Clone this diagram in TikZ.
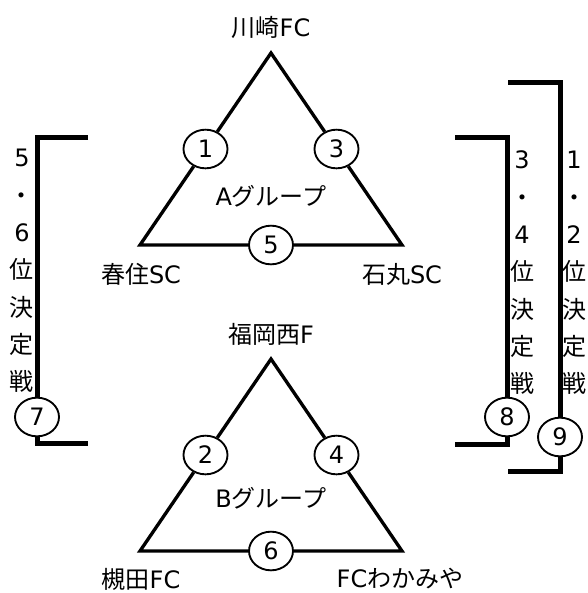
\documentclass[tikz,border=0pt]{standalone}
\usepackage{fontspec}
\setmainfont{DejaVu Sans}
\newfontfamily\jp{Noto Sans CJK JP}
\usetikzlibrary{shapes.geometric,calc}

\tikzset{
  edge/.style={line width=2.5pt},
  bracket/.style={line width=3.75pt},
  match/.style={ellipse, draw, line width=1.4pt, minimum width=33pt, minimum height=29pt, inner sep=0pt, font=\fontsize{18}{20}\selectfont},
  team/.style={inner sep=0pt, font=\fontsize{18}{20}\selectfont},
  vtext/.style={inner sep=0pt, align=center, font=\fontsize{18}{28}\selectfont}
}

\begin{document}
\begin{tikzpicture}[x=0.75pt,y=0.75pt,yscale=-1,xscale=1]
    \useasboundingbox (0,0) rectangle (587,593);

    % A group corners
    \coordinate (a1) at (271,53);
    \coordinate (a2) at (140,245);
    \coordinate (a3) at (402,245);
    % B group corners
    \coordinate (b1) at (271,359);
    \coordinate (b2) at (140,551);
    \coordinate (b3) at (402,551);

    % Match Nodes
    \node [match] (m1) at ($(a1)!0.5!(a2)$) {1};
    \node [match] (m3) at ($(a1)!0.5!(a3)$) {3};
    \node [match] (m5) at ($(a2)!0.5!(a3)$) {5};
    \node [match] (m2) at ($(b1)!0.5!(b2)$) {2};
    \node [match] (m4) at ($(b1)!0.5!(b3)$) {4};
    \node [match] (m6) at ($(b2)!0.5!(b3)$) {6};
    \node [match] (m7) at (37,417) {7};
    \node [match] (m8) at (507,417) {8};
    \node [match] (m9) at (560,437) {9};

    %Straight Lines (triangles)
    \draw [edge] (m1) -- (a1) -- (m3) -- (a3) -- (m5) -- (a2) -- (m1);
    \draw [edge] (m2) -- (b1) -- (m4) -- (b3) -- (m6) -- (b2) -- (m2);

    % brackets
    \coordinate (p7t) at (88,137);
    \coordinate (c7t) at (37,137);
    \coordinate (c7b) at (37,443);
    \coordinate (p7b) at (88,443);
    \draw [bracket] (p7t) -- (c7t) -- (m7) -- (c7b) -- (p7b);
    \coordinate (p8t) at (455,137);
    \coordinate (c8t) at (507,137);
    \coordinate (c8b) at (507,444);
    \coordinate (p8b) at (455,444);
    \draw [bracket] (p8t) -- (c8t) -- (m8) -- (c8b) -- (p8b);
    \coordinate (p9t) at (508,82);
    \coordinate (c9t) at (560,82);
    \coordinate (c9b) at (560,471);
    \coordinate (p9b) at (508,471);
    \draw [bracket] (p9t) -- (c9t) -- (m9) -- (c9b) -- (p9b);

    % Text Node
    \node [team] (kawasaki) at (271,27) {{\jp 川崎}FC};
    % Text Node
    \node [team] (harusumi) at (141,274) {{\jp 春住}SC};
    % Text Node
    \node [team] (ishimaru) at (402,274) {{\jp 石丸}SC};
    % Text Node
    \node [team] (groupA) at (271,196) {A{\jp グループ}};
    % Text Node
    \node [team] (fukuoka) at (271,334) {{\jp 福岡西}F};
    % Text Node
    \node [team] (tsukida) at (141,579) {{\jp 槻田}FC};
    % Text Node
    \node [team] (wakamiya) at (400,579) {FC{\jp わかみや}};
    % Text Node
    \node [team] (groupB) at (271,498) {B{\jp グループ}};

    % Text Node
    \node [vtext] (rank56) at (22,271) {5\\{\jp ・}\\6\\{\jp 位}\\{\jp 決}\\{\jp 定}\\{\jp 戦}};
    % Text Node
    \node [vtext] (rank34) at (522,273) {3\\{\jp ・}\\4\\{\jp 位}\\{\jp 決}\\{\jp 定}\\{\jp 戦}};
    % Text Node
    \node [vtext] (rank12) at (574,273) {1\\{\jp ・}\\2\\{\jp 位}\\{\jp 決}\\{\jp 定}\\{\jp 戦}};

\end{tikzpicture}
\end{document}
